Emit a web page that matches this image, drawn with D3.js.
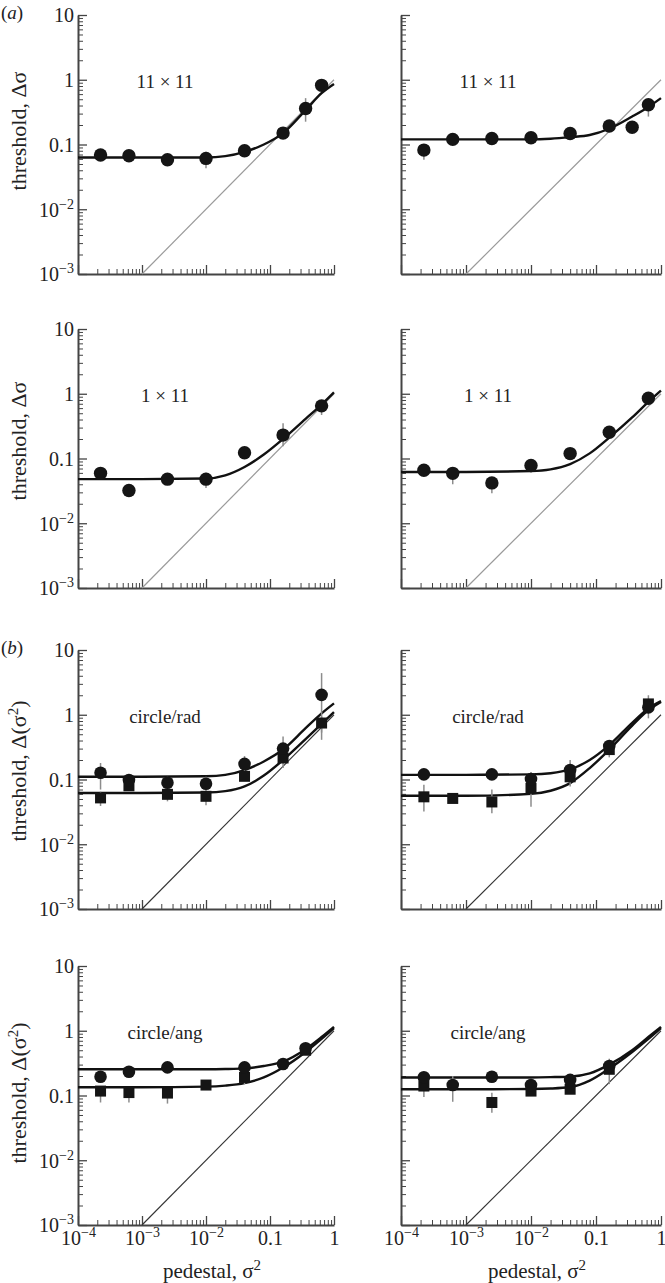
<!DOCTYPE html>
<html>
<head>
<meta charset="utf-8">
<script src="https://cdn.jsdelivr.net/npm/d3@7"></script>
<style>
  body { margin: 0; background: #fff; }
  svg text { font-family: "Liberation Serif", "Times New Roman", serif; fill: #222; }
</style>
</head>
<body>
<svg id="chart" width="665" height="1283"></svg>
<script>
// threshold vs pedestal, 4 rows x 2 columns of log-log panels

// ---- data ----
const xTicks = [1e-4, 1e-3, 1e-2, 0.1, 1];
const yTicks = [1e-3, 1e-2, 0.1, 1, 10];
const pedestal = [2.25e-4, 6.25e-4, 2.5e-3, 0.01, 0.04, 0.16, 0.36, 0.64];
const fitPedestal = [1e-4, 1e-3, 0.01, 0.02, 0.04, 0.08, 0.16, 0.36, 0.64, 1];
const identity = [[1e-3, 1e-3], [1, 1]];

// (a) 11 x 11
const a1Circles = [0.069, 0.067, 0.058, 0.061, 0.080, 0.150, 0.36, 0.82];
const a1CircleErr = [null, null, null, [0.043, 0.077], null, null, [0.225, 0.52], null];
const a1Fit = [0.063, 0.063, 0.063, 0.066, 0.077, 0.10, 0.15, 0.34, 0.62, 0.86];

const a2Circles = [0.082, 0.120, 0.124, 0.127, 0.148, 0.193, 0.185, 0.41];
const a2CircleErr = [[0.058, 0.10], null, null, null, null, null, null, [0.27, 0.50]];
const a2Fit = [0.12, 0.12, 0.12, 0.123, 0.13, 0.14, 0.175, 0.27, 0.38, 0.52];

// (a) 1 x 11
const a3Circles = [0.059, 0.032, 0.048, 0.048, 0.123, 0.23, null, 0.65];
const a3CircleErr = [null, null, [0.040, 0.058], [0.035, 0.060], null, [0.155, 0.35], null, [0.47, 0.80]];
const a3Fit = [0.048, 0.048, 0.049, 0.055, 0.074, 0.115, 0.20, 0.41, 0.68, 1.05];

const a4Circles = [0.066, 0.059, 0.042, 0.078, 0.119, 0.254, null, 0.85];
const a4CircleErr = [null, [0.040, 0.070], [0.029, 0.050], [0.061, 0.090], null, null, null, [0.70, 1.0]];
const a4Fit = [0.062, 0.062, 0.064, 0.068, 0.082, 0.12, 0.21, 0.43, 0.75, 1.12];

// (b) circle/rad
const b1Circles = [0.127, 0.098, 0.089, 0.086, 0.174, 0.30, null, 2.03];
const b1CircleErr = [[0.07, 0.18], [0.08, 0.12], [0.06, 0.11], [0.04, 0.11], [0.10, 0.23], [0.15, 0.46], null, [0.53, 4.4]];
const b1Squares = [0.052, 0.080, 0.059, 0.055, 0.112, 0.215, null, 0.745];
const b1SquareErr = [[0.039, 0.065], null, [0.046, 0.070], null, null, null, null, [0.41, 0.94]];
const b1FitHigh = [0.11, 0.11, 0.112, 0.118, 0.14, 0.19, 0.29, 0.62, 1.05, 1.5];
const b1FitLow = [0.062, 0.062, 0.063, 0.066, 0.078, 0.115, 0.20, 0.42, 0.72, 1.1];

const b2Circles = [0.12, null, 0.12, 0.102, 0.14, 0.33, null, 1.30];
const b2CircleErr = [null, null, null, [0.038, 0.13], [0.078, 0.20], null, null, [0.88, 2.0]];
const b2Squares = [0.054, 0.051, 0.045, 0.073, 0.11, 0.29, null, 1.47];
const b2SquareErr = [[0.032, 0.083], null, [0.030, 0.070], null, null, [0.22, 0.30], null, null];
const b2FitHigh = [0.118, 0.118, 0.12, 0.125, 0.143, 0.20, 0.34, 0.75, 1.25, 1.62];
const b2FitLow = [0.056, 0.056, 0.06, 0.067, 0.088, 0.15, 0.29, 0.68, 1.18, 1.58];

// (b) circle/ang
const b3Circles = [0.195, 0.233, 0.272, null, 0.272, 0.306, 0.536, null];
const b3CircleErr = [null, [0.20, 0.27], null, null, null, [0.27, 0.36], null, null];
const b3Squares = [0.117, 0.111, 0.109, 0.145, 0.19, null, 0.50, null];
const b3SquareErr = [[0.078, 0.13], [0.078, 0.13], [0.075, 0.13], null, [0.15, 0.25], null, null, null];
const b3FitHigh = [0.254, 0.254, 0.254, 0.256, 0.262, 0.285, 0.335, 0.52, 0.80, 1.15];
const b3FitLow = [0.134, 0.134, 0.137, 0.142, 0.155, 0.19, 0.27, 0.47, 0.75, 1.1];

const b4Circles = [0.191, 0.145, 0.195, 0.145, 0.174, 0.286, null, null];
const b4CircleErr = [[0.095, 0.22], [0.08, 0.20], null, null, null, [0.15, 0.37], null, null];
const b4Squares = [0.14, null, 0.078, 0.117, 0.125, 0.254, null, null];
const b4SquareErr = [null, null, [0.054, 0.11], null, null, null, null, null];
const b4FitHigh = [0.19, 0.19, 0.19, 0.192, 0.196, 0.22, 0.30, 0.50, 0.80, 1.15];
const b4FitLow = [0.125, 0.125, 0.126, 0.128, 0.135, 0.17, 0.26, 0.47, 0.75, 1.1];

// ---- layout ----
const colX = [78, 401];
const colW = [256, 260];
const rowY = [15, 329, 650, 966];
const rowH = 259;
const ylabCenter = [116, 112, 121, 127];

const panels = [
  { row: 0, col: 0, note: '11 × 11', part: 'a', circles: a1Circles, circleErr: a1CircleErr, fits: [a1Fit] },
  { row: 0, col: 1, note: '11 × 11', part: 'a', circles: a2Circles, circleErr: a2CircleErr, fits: [a2Fit] },
  { row: 1, col: 0, note: '1 × 11', part: 'a', circles: a3Circles, circleErr: a3CircleErr, fits: [a3Fit] },
  { row: 1, col: 1, note: '1 × 11', part: 'a', circles: a4Circles, circleErr: a4CircleErr, fits: [a4Fit] },
  { row: 2, col: 0, note: 'circle/rad', part: 'b', circles: b1Circles, circleErr: b1CircleErr, squares: b1Squares, squareErr: b1SquareErr, fits: [b1FitHigh, b1FitLow] },
  { row: 2, col: 1, note: 'circle/rad', part: 'b', circles: b2Circles, circleErr: b2CircleErr, squares: b2Squares, squareErr: b2SquareErr, fits: [b2FitHigh, b2FitLow] },
  { row: 3, col: 0, note: 'circle/ang', part: 'b', circles: b3Circles, circleErr: b3CircleErr, squares: b3Squares, squareErr: b3SquareErr, fits: [b3FitHigh, b3FitLow] },
  { row: 3, col: 1, note: 'circle/ang', part: 'b', circles: b4Circles, circleErr: b4CircleErr, squares: b4Squares, squareErr: b4SquareErr, fits: [b4FitHigh, b4FitLow] },
];

const svg = d3.select('#chart');
const AXIS = '#444';

// writes "10^-3" style labels with a raised exponent
function powerLabel(sel, d) {
  sel.text(null);
  const e = Math.round(Math.log10(d));
  if (e === 0) { sel.text('1'); return; }
  if (e === 1) { sel.text('10'); return; }
  if (e === -1) { sel.text('0.1'); return; }
  sel.append('tspan').text('10');
  sel.append('tspan').attr('dy', -8).attr('font-size', 14).text('\u2212' + Math.abs(e));
}

function drawPanel(p) {
  const x0 = colX[p.col], y0 = rowY[p.row], w = colW[p.col], h = rowH;
  const g = svg.append('g').attr('transform', `translate(${x0},${y0})`);

  const x = d3.scaleLog().domain([1e-4, 1]).range([0, w]);
  const y = d3.scaleLog().domain([1e-3, 10]).range([h, 0]);

  const isMajor = v => Math.abs(Math.log10(v) - Math.round(Math.log10(v))) < 1e-6;
  const xMinor = x.ticks().filter(v => !isMajor(v));
  const yMinor = y.ticks().filter(v => !isMajor(v));

  // minor ticks
  g.append('g').attr('transform', `translate(0,${h})`)
    .call(d3.axisBottom(x).tickValues(xMinor).tickSizeInner(-5).tickSizeOuter(0).tickFormat(''))
    .call(a => a.select('.domain').remove())
    .call(a => a.selectAll('line').attr('stroke', AXIS).attr('stroke-width', 1));
  g.append('g')
    .call(d3.axisLeft(y).tickValues(yMinor).tickSizeInner(-5).tickSizeOuter(0).tickFormat(''))
    .call(a => a.select('.domain').remove())
    .call(a => a.selectAll('line').attr('stroke', AXIS).attr('stroke-width', 1));

  // major ticks + labels
  const xAxis = g.append('g').attr('transform', `translate(0,${h})`)
    .call(d3.axisBottom(x).tickValues(xTicks).tickSizeInner(-9).tickSizeOuter(0).tickPadding(20));
  const yAxis = g.append('g')
    .call(d3.axisLeft(y).tickValues(yTicks).tickSizeInner(-9).tickSizeOuter(0).tickPadding(4));
  [xAxis, yAxis].forEach(a => {
    a.select('.domain').attr('stroke', AXIS).attr('stroke-width', 2);
    a.selectAll('.tick line').attr('stroke', AXIS).attr('stroke-width', 1.3);
    a.selectAll('.tick text').attr('font-size', 20).attr('fill', '#222')
      .attr('font-family', '"Liberation Serif", "Times New Roman", serif');
  });
  if (p.row === 3) {
    xAxis.selectAll('.tick text').attr('dy', 0).attr('y', 20)
      .each(function (d) { powerLabel(d3.select(this), d); });
  } else {
    xAxis.selectAll('.tick text').remove();
  }
  if (p.col === 0) {
    yAxis.selectAll('.tick text').attr('dy', '0.34em')
      .each(function (d) { powerLabel(d3.select(this), d); });
  } else {
    yAxis.selectAll('.tick text').remove();
  }

  // identity line
  g.append('path')
    .attr('d', d3.line().x(d => x(d[0])).y(d => y(d[1]))(identity))
    .attr('fill', 'none')
    .attr('stroke', p.part === 'a' ? '#9a9a9a' : '#333')
    .attr('stroke-width', p.part === 'a' ? 1.2 : 1.1);

  // fitted curves
  const fitLine = d3.line()
    .x((d, i) => x(fitPedestal[i]))
    .y(d => y(d))
    .curve(d3.curveMonotoneX);
  p.fits.forEach(f => {
    g.append('path').attr('d', fitLine(f))
      .attr('fill', 'none').attr('stroke', '#111').attr('stroke-width', 2.4);
  });

  // error bars
  const bars = [];
  (p.circleErr || []).forEach((e, i) => { if (e) bars.push([pedestal[i], e]); });
  (p.squareErr || []).forEach((e, i) => { if (e) bars.push([pedestal[i], e]); });
  g.selectAll('.err').data(bars).join('line')
    .attr('class', 'err')
    .attr('x1', d => x(d[0])).attr('x2', d => x(d[0]))
    .attr('y1', d => y(d[1][0])).attr('y2', d => y(d[1][1]))
    .attr('stroke', '#8c8c8c').attr('stroke-width', 1.5);

  // markers
  if (p.squares) {
    const sq = p.squares.map((v, i) => [pedestal[i], v]).filter(d => d[1] != null);
    g.selectAll('.sq').data(sq).join('rect')
      .attr('class', 'sq')
      .attr('x', d => x(d[0]) - 5.5).attr('y', d => y(d[1]) - 5.5)
      .attr('width', 11).attr('height', 11)
      .attr('fill', '#151515');
  }
  const ci = p.circles.map((v, i) => [pedestal[i], v]).filter(d => d[1] != null);
  g.selectAll('.ci').data(ci).join('circle')
    .attr('class', 'ci')
    .attr('cx', d => x(d[0])).attr('cy', d => y(d[1]))
    .attr('r', p.part === 'a' ? 6.7 : 6.3)
    .attr('fill', '#151515');

  // condition label
  g.append('text').attr('x', 87).attr('y', 73)
    .attr('text-anchor', 'middle').attr('font-size', 19)
    .text(p.note);

  // y title
  if (p.col === 0) {
    const t = g.append('text')
      .attr('transform', `translate(${19 - x0},${ylabCenter[p.row]}) rotate(-90)`)
      .attr('text-anchor', 'middle').attr('dy', '0.34em').attr('font-size', 22);
    if (p.part === 'a') {
      t.text('threshold, \u0394\u03c3');
    } else {
      t.append('tspan').text('threshold, \u0394(\u03c3');
      t.append('tspan').attr('dy', -8).attr('font-size', 15).text('2');
      t.append('tspan').attr('dy', 8).text(')');
    }
  }

  // x title
  if (p.row === 3) {
    const t = g.append('text').attr('x', w / 2 + 6).attr('y', h + 53)
      .attr('text-anchor', 'middle').attr('font-size', 21);
    t.append('tspan').text('pedestal, \u03c3');
    t.append('tspan').attr('dy', -8).attr('font-size', 15).text('2');
  }
}

panels.forEach(drawPanel);

// part letters
[['(a)', 19], ['(b)', 654]].forEach(([s, yy]) => {
  const t = svg.append('text').attr('x', 1).attr('y', yy).attr('font-size', 19);
  t.append('tspan').text('(');
  t.append('tspan').attr('font-style', 'italic').text(s[1]);
  t.append('tspan').text(')');
});
</script>
</body>
</html>
